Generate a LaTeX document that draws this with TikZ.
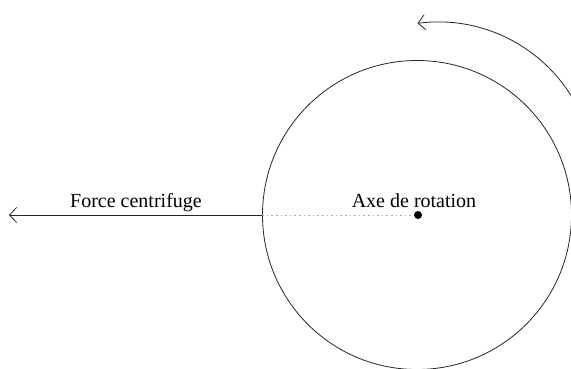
\documentclass[tikz,border=0pt]{standalone}
\usepackage{fontspec}
\setmainfont{Liberation Serif}
\usetikzlibrary{arrows.meta}
\begin{document}
\begin{tikzpicture}[x=1pt,y=-1pt,
  line/.style={line width=0.8pt, draw=black!85},
  barb/.style={-{Straight Barb[length=7pt,width=15pt,line width=0.8pt]}},
  label/.style={font=\fontsize{20}{22}\selectfont, inner sep=0pt, anchor=base}]
  \useasboundingbox (0,0) rectangle (571,369);
  \clip (0,0) rectangle (571,369);
  % wheel and its axis
  \coordinate (O) at (417,215);
  \node[circle, line, minimum size=309pt, inner sep=0pt] (wheel) at (O) {};
  \node[circle, fill=black, minimum size=8pt, inner sep=0pt] (axis) at (418,215) {};
  \draw[dash pattern=on 1.6pt off 3pt, gray!65, line width=1pt] (wheel.west) -- (axis.west);
  % centrifugal force
  \coordinate (ftip) at (9,215);
  \draw[line, barb] (wheel.west) -- (ftip);
  \node[label] (flabel) at (136,207) {Force centrifuge};
  \node[label] (alabel) at (414,207) {Axe de rotation};
  % sense of rotation
  \coordinate (rc) at (438,179);
  \draw[line, barb] ([shift={(-15:157)}]rc) arc[start angle=-15, end angle=-97.5, radius=157];
\end{tikzpicture}
\end{document}
